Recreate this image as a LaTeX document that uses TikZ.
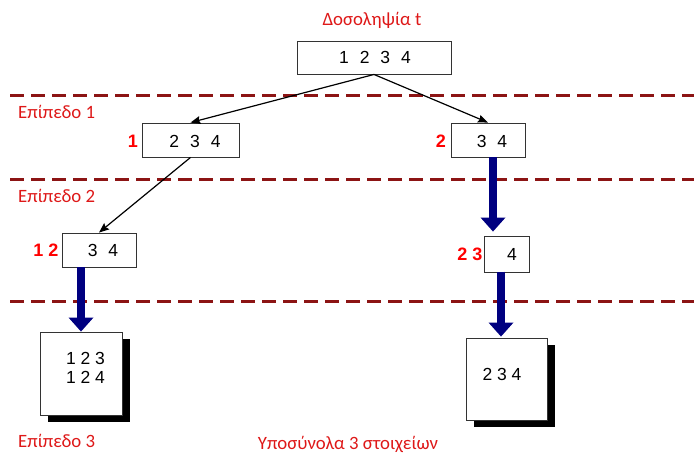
\documentclass[tikz,border=0pt]{standalone}
\usepackage{fontspec}
\setmainfont{Liberation Sans}
\newfontfamily\captionfont{Carlito}
\usetikzlibrary{arrows.meta,shadows}
\definecolor{lvlred}{RGB}{140,20,20}
\definecolor{capred}{RGB}{222,24,24}
\definecolor{numred}{RGB}{255,0,0}
\definecolor{fatblue}{RGB}{0,0,128}
\newcommand\dgap{\hspace{11pt}}
\begin{document}
\begin{tikzpicture}[x=1pt,y=-1pt,
  level/.style={draw=lvlred, line width=3pt, dash pattern=on 14pt off 7pt},
  caption/.style={text=capred, font=\captionfont\fontsize{18.8}{22}\selectfont, inner sep=0},
  setbox/.style={draw=black!80, fill=white, line width=0.9pt, inner sep=0},
  digits/.style={font=\fontsize{17.5}{19}\selectfont, inner sep=0},
  tag/.style={text=numred, font=\bfseries\fontsize{18}{19}\selectfont, inner sep=0},
  result/.style={setbox, drop shadow={shadow xshift=8pt, shadow yshift=-7pt, fill=black, opacity=1}},
  thinarrow/.style={draw=black, line width=1.2pt, -{Stealth[length=10pt,width=8pt,inset=1.5pt]}},
  fatarrow/.style={draw=fatblue, line width=8pt, -{Triangle[width=25pt,length=14pt,line width=0pt]}}
]
\useasboundingbox (0,0) rectangle (694,458);

% level separators
\draw[level] (10,95) -- (694,95);
\draw[level] (10,179) -- (694,179);
\draw[level] (10,301) -- (694,301);

% captions
\node[caption] (title) at (372,20) {Δοσοληψία t};
\node[caption, anchor=west] (lv1) at (18,112) {Επίπεδο 1};
\node[caption, anchor=west] (lv2) at (18,196) {Επίπεδο 2};
\node[caption, anchor=west] (lv3) at (18,441) {Επίπεδο 3};
\node[caption] (subsets) at (348,444) {Υποσύνολα 3 στοιχείων};

% tree boxes
\node[setbox, minimum width=154pt, minimum height=33pt] (root) at (374,57.5) {};
\node[setbox, minimum width=97pt, minimum height=34pt] (b1) at (190.5,140) {};
\node[setbox, minimum width=74pt, minimum height=34pt] (r1) at (488,140) {};
\node[setbox, minimum width=74pt, minimum height=34pt] (l2) at (99,250) {};
\node[setbox, minimum width=45pt, minimum height=36pt] (r2) at (506.5,254) {};
\node[result, minimum width=82pt, minimum height=83pt] (rl) at (81,373.5) {};
\node[result, minimum width=81pt, minimum height=82pt] (rr) at (506.5,379) {};

% box contents
\node[digits] (troot) at (375,57.5) {1\dgap 2\dgap 3\dgap 4};
\node[digits] (tb1) at (195,141) {2\dgap 3\dgap 4};
\node[digits] (tr1) at (492,141) {3\dgap 4};
\node[digits] (tl2) at (103,250) {3\dgap 4};
\node[digits] (tr2) at (512,254) {4};
\node[digits, align=left, font=\fontsize{17.5}{19}\selectfont] (trl) at (85.5,367.5) {1 2 3\\1 2 4};
\node[digits] (trr) at (502,374) {2 3 4};

% prefix tags
\node[tag] (p1) at (133,141) {1};
\node[tag] (p2) at (441,141) {2};
\node[tag] (p12) at (46,250) {1 2};
\node[tag] (p23) at (470,254) {2 3};

% branches
\draw[thinarrow] (root.south) -- (b1.north);
\draw[thinarrow] (root.south) -- (r1.north);
\draw[thinarrow] (b1.south) -- (l2.north);

% final steps
\draw[fatarrow] ([xshift=5pt]r1.south) -- ([xshift=5pt,yshift=4pt]r1.south |- r2.north);
\draw[fatarrow] (rr.north -| 501,0) ++(0,-66) -- ([yshift=1pt]rr.north -| 501,0);
\draw[fatarrow] (rl.north |- l2.south) -- (rl.north);
\end{tikzpicture}
\end{document}
